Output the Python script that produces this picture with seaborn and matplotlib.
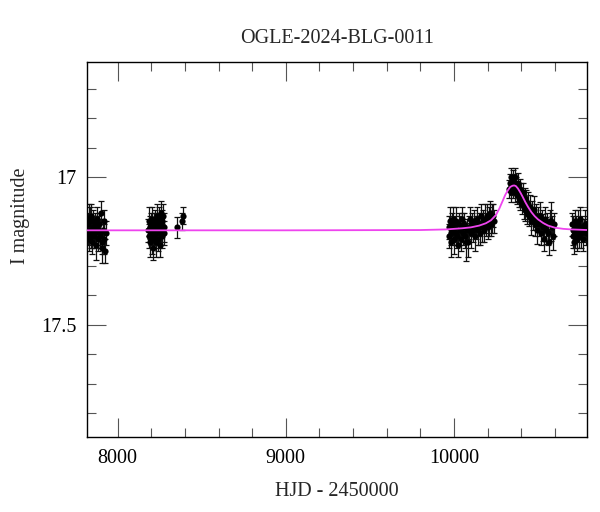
import numpy as np
import pandas as pd
import matplotlib
matplotlib.use("Agg")
import matplotlib.pyplot as plt
import seaborn as sns
from matplotlib.ticker import MultipleLocator

# --- data (HJD - 2450000, I mag, error) ---
a_hjd = [7822, 7825, 7828, 7831, 7834, 7837, 7840, 7843, 7846, 7849, 7852, 7855, 7858, 7861, 7864, 7867,
         7870, 7873, 7876, 7880, 7884, 7888, 7892, 7896, 7900, 7904, 7908, 7912, 7916, 7920, 7924, 7928]
a_mag = [17.16, 17.19, 17.14, 17.21, 17.18, 17.15, 17.20, 17.13, 17.19, 17.22, 17.17, 17.15, 17.18, 17.20, 17.16, 17.19,
         17.23, 17.17, 17.14, 17.21, 17.18, 17.16, 17.20, 17.19, 17.12, 17.22, 17.24, 17.18, 17.15, 17.21, 17.25, 17.19]
a_err = [0.04, 0.04, 0.05, 0.04, 0.04, 0.05, 0.04, 0.04, 0.05, 0.04, 0.04, 0.04, 0.05, 0.04, 0.04, 0.04,
         0.05, 0.04, 0.04, 0.04, 0.05, 0.04, 0.04, 0.05, 0.04, 0.04, 0.05, 0.04, 0.04, 0.05, 0.04, 0.04]

b_hjd = [8182, 8185, 8188, 8191, 8194, 8197, 8200, 8203, 8206, 8209, 8212, 8215, 8218, 8221, 8224, 8227,
         8230, 8233, 8236, 8239, 8242, 8245, 8248, 8251, 8254, 8257, 8260, 8263, 8266, 8270, 8274, 8278]
b_mag = [17.18, 17.15, 17.20, 17.17, 17.22, 17.16, 17.19, 17.14, 17.21, 17.18, 17.24, 17.17, 17.20, 17.15, 17.19, 17.22,
         17.16, 17.13, 17.18, 17.21, 17.17, 17.14, 17.19, 17.23, 17.16, 17.12, 17.18, 17.20, 17.15, 17.13, 17.17, 17.19]
b_err = [0.04, 0.05, 0.04, 0.04, 0.05, 0.04, 0.04, 0.04, 0.05, 0.04, 0.04, 0.05, 0.04, 0.04, 0.04, 0.05,
         0.04, 0.04, 0.05, 0.04, 0.04, 0.04, 0.05, 0.04, 0.04, 0.04, 0.05, 0.04, 0.04, 0.04, 0.05, 0.04]

c_hjd = [8355, 8385, 8386]
c_mag = [17.17, 17.15, 17.13]
c_err = [0.035, 0.03, 0.03]

d_hjd = [9968, 9972, 9976, 9980, 9984, 9988, 9992, 9996, 10000, 10005, 10010, 10015, 10020, 10025, 10030, 10035,
         10040, 10045, 10050, 10055, 10060, 10066, 10072, 10078, 10084, 10090, 10096, 10102, 10108, 10114, 10120,
         10126, 10132, 10138, 10144, 10150, 10156, 10162, 10168, 10174, 10180, 10186, 10192, 10198, 10204, 10210,
         10216, 10222, 10228, 10234, 10240]
d_mag = [17.17, 17.20, 17.15, 17.19, 17.22, 17.16, 17.18, 17.14, 17.21, 17.17, 17.19, 17.15, 17.20, 17.23, 17.16, 17.18,
         17.21, 17.14, 17.17, 17.19, 17.16, 17.20, 17.22, 17.18, 17.22, 17.17, 17.14, 17.19, 17.16, 17.18, 17.15,
         17.20, 17.17, 17.14, 17.18, 17.16, 17.19, 17.13, 17.17, 17.15, 17.18, 17.14, 17.16, 17.13, 17.17, 17.15,
         17.12, 17.16, 17.14, 17.13, 17.15]
d_err = [0.04, 0.04, 0.05, 0.04, 0.05, 0.04, 0.04, 0.04, 0.05, 0.04, 0.04, 0.05, 0.04, 0.04, 0.04, 0.05,
         0.04, 0.04, 0.05, 0.04, 0.04, 0.04, 0.065, 0.04, 0.05, 0.04, 0.04, 0.05, 0.04, 0.04, 0.04,
         0.05, 0.04, 0.04, 0.05, 0.04, 0.04, 0.04, 0.05, 0.04, 0.04, 0.05, 0.04, 0.04, 0.04, 0.05,
         0.04, 0.04, 0.05, 0.04, 0.04]

e_hjd = [10330, 10334, 10338, 10342, 10346, 10350, 10354, 10358, 10362, 10366, 10370, 10374, 10378, 10382, 10386,
         10390, 10395, 10400, 10405, 10410, 10415, 10420, 10425, 10430, 10436, 10442, 10448, 10454, 10460, 10466,
         10472, 10478, 10484, 10490, 10496, 10502, 10508, 10514, 10520, 10526, 10532, 10538, 10544, 10550, 10556,
         10562, 10568, 10574, 10580, 10586, 10592, 10598]
e_mag = [17.04, 17.02, 17.05, 17.00, 17.03, 17.01, 17.04, 17.02, 17.00, 17.05, 17.03, 17.06, 17.02, 17.05, 17.07,
         17.04, 17.08, 17.06, 17.09, 17.05, 17.10, 17.07, 17.11, 17.08, 17.12, 17.09, 17.13, 17.10, 17.15, 17.12,
         17.14, 17.11, 17.16, 17.13, 17.18, 17.14, 17.16, 17.13, 17.19, 17.15, 17.17, 17.21, 17.14, 17.18, 17.16,
         17.19, 17.22, 17.15, 17.15, 17.17, 17.20, 17.16]
e_err = [0.03, 0.03, 0.035, 0.03, 0.03, 0.035, 0.03, 0.03, 0.03, 0.035, 0.03, 0.03, 0.035, 0.03, 0.03,
         0.035, 0.03, 0.04, 0.035, 0.03, 0.04, 0.035, 0.04, 0.035, 0.04, 0.04, 0.035, 0.04, 0.045, 0.04,
         0.04, 0.045, 0.04, 0.04, 0.045, 0.04, 0.04, 0.045, 0.04, 0.04, 0.045, 0.04, 0.04, 0.045, 0.04,
         0.04, 0.045, 0.04, 0.065, 0.04, 0.045, 0.04]

f_hjd = [10702, 10706, 10710, 10714, 10718, 10722, 10726, 10730, 10735, 10740, 10745, 10750, 10755, 10760, 10766,
         10772, 10778, 10784, 10790]
f_mag = [17.16, 17.20, 17.18, 17.22, 17.15, 17.19, 17.17, 17.21, 17.18, 17.16, 17.20, 17.14, 17.19, 17.17, 17.21,
         17.18, 17.16, 17.19, 17.17]
f_err = [0.04, 0.04, 0.05, 0.04, 0.04, 0.05, 0.04, 0.04, 0.04, 0.05, 0.04, 0.04, 0.05, 0.04, 0.04,
         0.04, 0.05, 0.04, 0.04]

# microlensing model curve
model_hjd = [7815, 9000, 9800, 9950, 10050, 10100, 10150, 10190, 10220, 10250, 10270, 10290, 10305, 10320, 10335,
             10348, 10358, 10368, 10380, 10395, 10410, 10425, 10440, 10460, 10480, 10500, 10530, 10560, 10600,
             10650, 10700, 10795]
model_mag = [17.180, 17.180, 17.179, 17.177, 17.173, 17.170, 17.164, 17.156, 17.146, 17.128, 17.106, 17.080, 17.060,
             17.045, 17.033, 17.029, 17.028, 17.030, 17.038, 17.052, 17.068, 17.085, 17.100, 17.118, 17.132, 17.143,
             17.155, 17.164, 17.171, 17.175, 17.177, 17.179]

title = "OGLE-2024-BLG-0011"
x_ticks = [8000, 9000, 10000]
y_ticks = [17, 17.5]
y_ticklabels = ["17", "17.5"]

df = pd.DataFrame({
    "hjd": a_hjd + b_hjd + c_hjd + d_hjd + e_hjd + f_hjd,
    "mag": a_mag + b_mag + c_mag + d_mag + e_mag + f_mag,
    "err": a_err + b_err + c_err + d_err + e_err + f_err,
})
model = pd.DataFrame({"hjd": model_hjd, "mag": model_mag})

sns.set_style("ticks")
plt.rcParams["font.family"] = ["Liberation Serif", "DejaVu Serif"]

fig = plt.figure(figsize=(6, 5.12), dpi=100)
ax = fig.add_axes([0.1455, 0.147, 0.8333, 0.7313])

ax.errorbar(df["hjd"], df["mag"], yerr=df["err"], fmt="none", ecolor="#111111",
            elinewidth=0.9, capsize=2.5, capthick=0.9, zorder=2)
sns.scatterplot(data=df, x="hjd", y="mag", color="black", s=20, linewidth=0, ax=ax, zorder=3)
sns.lineplot(data=model, x="hjd", y="mag", color="#ee44ee", linewidth=1.3, ax=ax, zorder=4)

ax.set_xlim(7819, 10793)
ax.set_ylim(17.879, 16.611)

ax.set_xticks(x_ticks)
ax.xaxis.set_minor_locator(MultipleLocator(200))
ax.set_yticks(y_ticks, labels=y_ticklabels)
ax.yaxis.set_minor_locator(MultipleLocator(0.1))

ax.tick_params(which="both", direction="in", top=True, right=True, color="#555555", width=0.8,
               labelsize=14.5, labelcolor="black")
ax.tick_params(which="major", length=13.5)
ax.tick_params(which="minor", length=6.7)
ax.tick_params(axis="y", which="both", pad=7.5)
ax.tick_params(axis="x", which="both", pad=9)

for sp in ax.spines.values():
    sp.set_color("black")
    sp.set_linewidth(1.0)

ax.set_xlabel("HJD - 2450000", fontsize=14.5, labelpad=10)
ax.set_ylabel("I magnitude", fontsize=14.5, va="center")
ax.yaxis.set_label_coords(-0.133, 0.59)
ax.set_title(title, fontsize=14.5, pad=14)

fig.savefig("out.png", dpi=100)
